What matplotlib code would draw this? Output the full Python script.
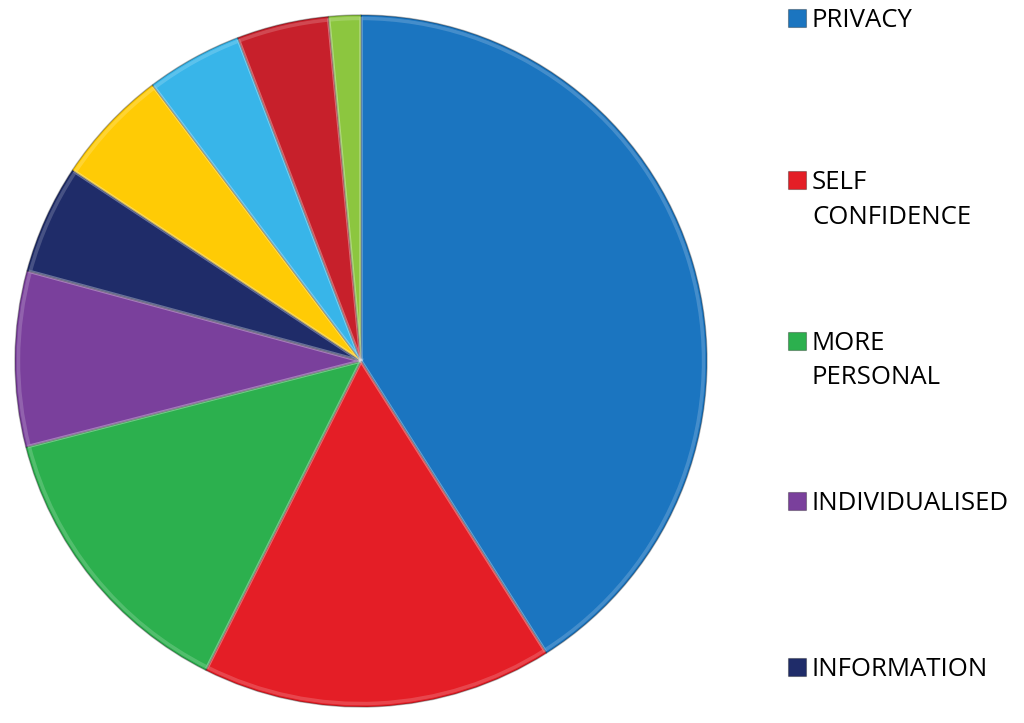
import matplotlib.pyplot as plt
from matplotlib.patches import Rectangle

# slice values (percent), clockwise from 12 o'clock
values = [41.0, 16.4, 13.6, 8.2, 5.1, 5.4, 4.5, 4.3, 1.5]
colors = ["#1B75C0", "#E41E26", "#2CB04E", "#7A409C", "#1F2C69",
          "#FFCB05", "#38B5E9", "#C7202B", "#8CC63F"]
# only the first five legend entries are visible in the original
legend_labels = ["PRIVACY", "SELF\nCONFIDENCE", "MORE\nPERSONAL",
                 "INDIVIDUALISED", "INFORMATION"]

fig = plt.figure(figsize=(10.24, 7.23), dpi=100, facecolor="white")
ax = fig.add_axes([15 / 1024, 16 / 723, 692 / 1024, 692 / 723])

ax.pie(values, colors=colors, startangle=90, counterclock=False, radius=1.0,
       wedgeprops=dict(edgecolor=(0, 0, 0, 0.3), linewidth=1.0))
# faint highlight just inside each slice edge
ax.pie(values, startangle=90, counterclock=False, radius=0.99,
       wedgeprops=dict(facecolor="none", edgecolor=(1, 1, 1, 0.18),
                       linewidth=2.5))
ax.set_xlim(-1.0, 1.0)
ax.set_ylim(-1.0, 1.0)
ax.set_aspect("equal")
ax.axis("off")

# legend drawn by hand: one entry every ~162 px down the right side
center_px = [18, 180, 341, 501, 667]
for lab, col, y in zip(legend_labels, colors, center_px):
    fy = 1 - y / 723
    fig.patches.append(Rectangle((788 / 1024, fy - 9 / 723), 18 / 1024, 18 / 723,
                                 transform=fig.transFigure, facecolor=col,
                                 edgecolor=(0, 0, 0, 0.3), linewidth=0.8))
    fig.text(812 / 1024, fy + 10 / 723, lab, fontsize=18.5, family="Open Sans",
             va="top", ha="left", color="black", linespacing=1.5)

plt.savefig("out.png", dpi=100, facecolor="white")
